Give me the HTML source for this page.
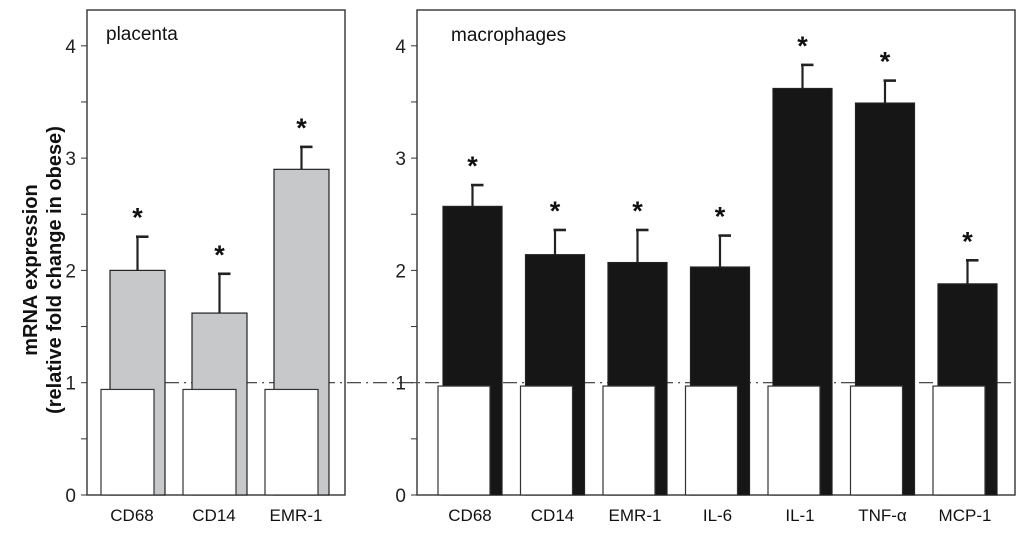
<!DOCTYPE html>
<html><head><meta charset="utf-8"><style>
body{margin:0;background:#fff;}
svg text{font-family:"Liberation Sans",Arial,sans-serif;}
</style></head><body>
<svg id="c" width="1024" height="530" viewBox="0 0 1024 530" xmlns="http://www.w3.org/2000/svg"></svg>
<script>
const leftCats=["CD68","CD14","EMR-1"];
const leftVals=[2.0,1.62,2.9];
const leftErr=[2.3,1.97,3.1];
const leftCtrl=[0.94,0.94,0.94];
const rightCats=["CD68","CD14","EMR-1","IL-6","IL-1","TNF-\u03b1","MCP-1"];
const rightVals=[2.57,2.14,2.07,2.03,3.62,3.49,1.88];
const rightErr=[2.76,2.36,2.36,2.31,3.83,3.69,2.09];
const rightCtrl=[0.97,0.97,0.97,0.97,0.97,0.97,0.97];
const yTicks=[0,1,2,3,4];

const NS="http://www.w3.org/2000/svg";
const svg=document.getElementById('c');
function mk(t,a,p){const e=document.createElementNS(NS,t);for(const k in a)e.setAttribute(k,a[k]);(p||svg).appendChild(e);return e;}
const y0=495,unit=112.3;
function Y(v){return y0-v*unit;}

function panel(name,x0,x1,cats,vals,errs,ctrl,c0,step,fill,bOff,bW,wOff,wW){
  const g=mk('g',{});
  
  
  const fr=mk('rect',{x:x0,y:10,width:x1-x0,height:y0-10,fill:'none',stroke:'#333','stroke-width':1.4},g);
  
  
  for(let v=0;v<=4;v+=0.5){
    const t=mk('line',{x1:x0-6,x2:x0,y1:Y(v),y2:Y(v),stroke:'#333','stroke-width':1},g);
    
    
  }
  yTicks.forEach(v=>{
    const t=mk('text',{x:x0-11,y:Y(v)+7,'text-anchor':'end','font-size':19,fill:'#222'},g);
    t.textContent=v;
    
    
  });
  cats.forEach((c,i)=>{
    const cx=c0+i*step;
    const b=mk('rect',{x:cx+bOff,y:Y(vals[i]),width:bW,height:Y(0)-Y(vals[i]),fill:fill,stroke:'#222','stroke-width':1.2},g);
    
    
    const ex=cx+bOff+bW/2;
    const e1=mk('line',{x1:ex,x2:ex,y1:Y(vals[i]),y2:Y(errs[i]),stroke:'#222','stroke-width':2.2},g);
    
    
    const e2=mk('line',{x1:ex-1.5,x2:ex+11,y1:Y(errs[i]),y2:Y(errs[i]),stroke:'#222','stroke-width':2.6},g);
    
    
    const s=mk('text',{x:ex,y:Y(errs[i])-10,'text-anchor':'middle','font-size':27,'font-weight':'bold',fill:'#111'},g);
    s.textContent='*';
    
    
    const w=mk('rect',{x:cx+wOff,y:Y(ctrl[i]),width:wW,height:Y(0)-Y(ctrl[i]),fill:'#fff',stroke:'#333','stroke-width':1.2},g);
    
    
    const l=mk('text',{x:cx,y:521,'text-anchor':'middle','font-size':17,fill:'#111'},g);
    l.textContent=c;
    
    
  });
}
const ref=mk('line',{x1:165,x2:1015,y1:Y(1),y2:Y(1),stroke:'#333','stroke-width':1.2,'stroke-dasharray':'14 5 2 5'});



panel('placenta',87,345,leftCats,leftVals,leftErr,leftCtrl,132,82,'#c7c8ca',-22,55,-31,53);
panel('macrophages',417,1015,rightCats,rightVals,rightErr,rightCtrl,470,82.5,'#161616',-27,59,-32,52);

const t1=mk('text',{x:106,y:40,'font-size':19,fill:'#111'});t1.textContent='placenta';


const t2=mk('text',{x:451,y:41,'font-size':19,fill:'#111'});t2.textContent='macrophages';


const yt=mk('text',{transform:'translate(40,270) rotate(-90)','text-anchor':'middle','font-size':20,'font-weight':'bold',fill:'#111'});


const a=mk('tspan',{x:0,dy:-3},yt);a.textContent='mRNA expression';
const b=mk('tspan',{x:0,dy:24},yt);b.textContent='(relative fold change in obese)';
</script>
</body></html>
